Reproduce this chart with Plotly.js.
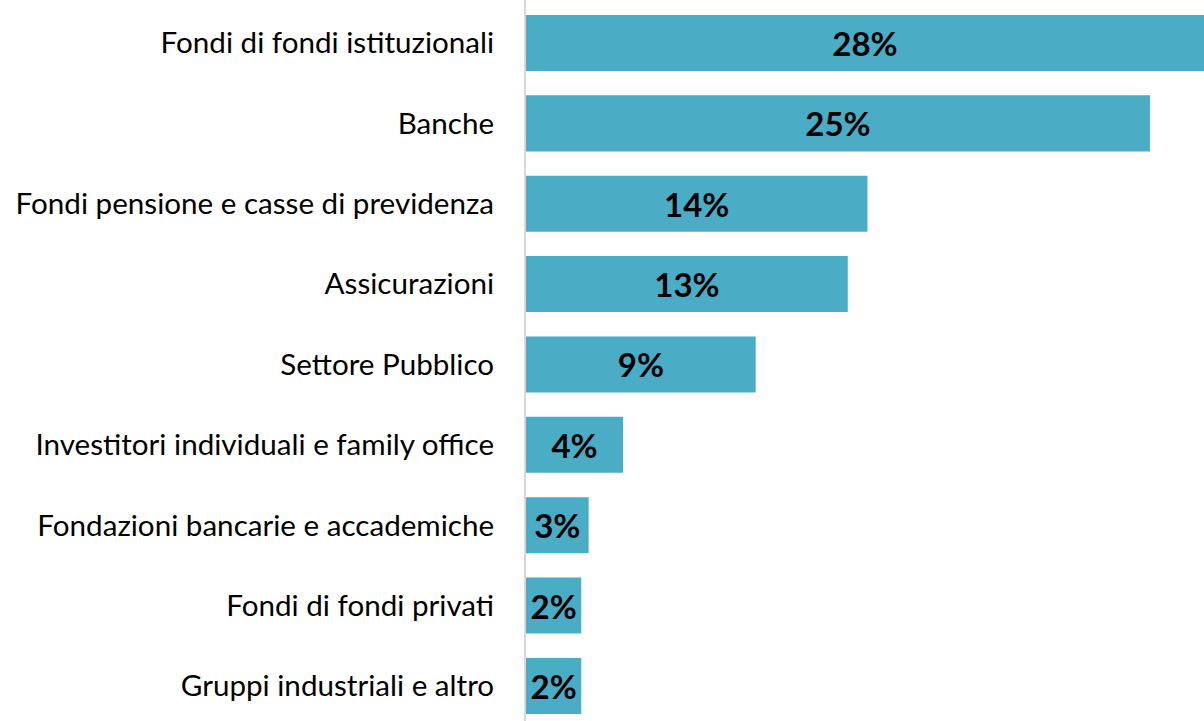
<!DOCTYPE html>
<html>
<head>
<meta charset="utf-8">
<script src="https://cdn.plot.ly/plotly-3.0.1.min.js"></script>
<style>
  html, body { margin: 0; padding: 0; background: #fff; }
  #chart { width: 1204px; height: 721px; }
</style>
</head>
<body>
<div id="chart"></div>
<script>
const categories = [
  'Fondi di fondi istituzionali',
  'Banche',
  'Fondi pensione e casse di previdenza',
  'Assicurazioni',
  'Settore Pubblico',
  'Investitori individuali e family office',
  'Fondazioni bancarie e accademiche',
  'Fondi di fondi privati',
  'Gruppi industriali e altro'
];
const shares = [27.6, 25.4, 13.9, 13.1, 9.35, 3.95, 2.55, 2.25, 2.25];

const trace = {
  type: 'bar',
  orientation: 'h',
  y: categories,
  x: shares,
  marker: { color: '#4bacc6', line: { width: 0 } },
  texttemplate: '%{x:.0f}%',
  textposition: 'inside',
  insidetextanchor: 'middle',
  textangle: 0,
  insidetextfont: { family: 'Lato, sans-serif', size: 33, color: '#000000', weight: 'bold' },
  hoverinfo: 'skip',
  cliponaxis: true
};

const layout = {
  width: 1204,
  height: 721,
  margin: { l: 526, r: 0, t: 0, b: 0 },
  paper_bgcolor: '#ffffff',
  plot_bgcolor: '#ffffff',
  bargap: 0.303,
  showlegend: false,
  xaxis: {
    range: [0, 27.6],
    visible: false,
    showgrid: false,
    zeroline: false
  },
  yaxis: {
    type: 'category',
    range: [8.436, -0.535],
    showgrid: false,
    zeroline: false,
    showline: true,
    linecolor: '#d9d9d9',
    linewidth: 2,
    ticks: '',
    ticklabelstandoff: 24,
    tickfont: { family: 'Lato, sans-serif', size: 29.6, color: '#000000' }
  }
};

Plotly.newPlot('chart', [trace], layout, { staticPlot: true, displayModeBar: false });
</script>
</body>
</html>
